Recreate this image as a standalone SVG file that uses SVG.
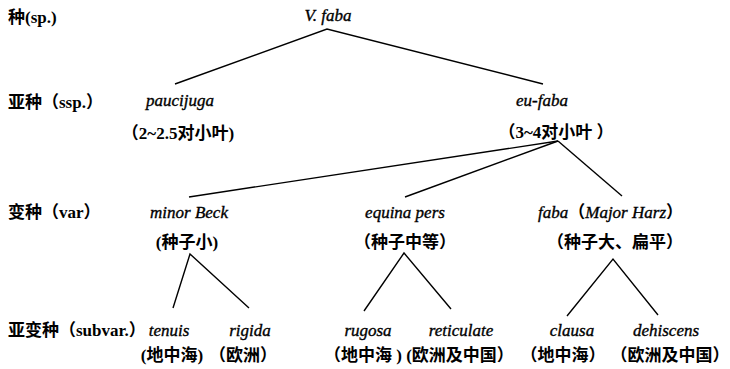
<svg xmlns="http://www.w3.org/2000/svg" width="730" height="369" viewBox="0 0 730 369">
<style>
.zh{font-family:"Liberation Serif","Noto Sans CJK SC",serif;font-weight:bold;font-size:17px;fill:#000}
.it{font-family:"Liberation Serif",serif;font-style:italic;font-weight:normal;font-size:17px;fill:#000;stroke:#000;stroke-width:0.35}
.c{text-anchor:middle}
.ln{stroke:#000;stroke-width:1.4;fill:none;stroke-linejoin:miter}
</style>
<rect width="730" height="369" fill="#fff"/>
<g id="rank-labels">
<text class="zh" x="8" y="23">种(sp.)</text>
<text class="zh" x="8" y="108">亚种（ssp.）</text>
<text class="zh" x="8" y="218">变种（var）</text>
<text class="zh" x="8" y="336">亚变种（subvar.）</text>
</g>
<g id="connectors">
<polyline class="ln" points="175,84 327,29 543,84"/>
<line class="ln" x1="558" y1="141" x2="189" y2="197"/>
<line class="ln" x1="558" y1="141" x2="405" y2="197"/>
<line class="ln" x1="558" y1="141" x2="622" y2="196"/>
<polyline class="ln" points="173,308 190,254 249,308"/>
<polyline class="ln" points="364,311 404,253 451,309"/>
<polyline class="ln" points="567,316 613,259 658,315"/>
</g>
<g id="node-vfaba"><text class="it c" x="328" y="21">V. faba</text></g>
<g id="node-paucijuga">
<text class="it c" x="180" y="106">paucijuga</text>
<text class="zh c" x="178" y="139">（2~2.5对小叶)</text>
</g>
<g id="node-eufaba">
<text class="it c" x="542" y="106">eu-faba</text>
<text class="zh c" x="556" y="138">（3~4对小叶 ）</text>
</g>
<g id="node-minor">
<text class="it c" x="189" y="218">minor Beck</text>
<text class="zh c" x="187" y="248">(种子小)</text>
</g>
<g id="node-equina">
<text class="it c" x="405" y="218">equina pers</text>
<text class="zh c" x="405" y="248">（种子中等）</text>
</g>
<g id="node-faba">
<text class="zh" x="538" y="218"><tspan class="it">faba</tspan>（<tspan class="it">Major Harz</tspan>）</text>
<text class="zh c" x="615" y="248">（种子大、扁平）</text>
</g>
<g id="node-tenuis">
<text class="it c" x="169" y="336">tenuis</text>
<text class="zh c" x="172" y="361">(地中海)</text>
</g>
<g id="node-rigida">
<text class="it c" x="250" y="336">rigida</text>
<text class="zh c" x="243" y="361">（欧洲）</text>
</g>
<g id="node-rugosa">
<text class="it c" x="368" y="336">rugosa</text>
<text class="zh c" x="363" y="361">（地中海 )</text>
</g>
<g id="node-reticulate">
<text class="it c" x="461" y="336">reticulate</text>
<text class="zh c" x="460" y="361">(欧洲及中国）</text>
</g>
<g id="node-clausa">
<text class="it c" x="572" y="336">clausa</text>
<text class="zh c" x="563" y="361">（地中海）</text>
</g>
<g id="node-dehiscens">
<text class="it c" x="666" y="336">dehiscens</text>
<text class="zh c" x="670" y="361">（欧洲及中国）</text>
</g>
</svg>
